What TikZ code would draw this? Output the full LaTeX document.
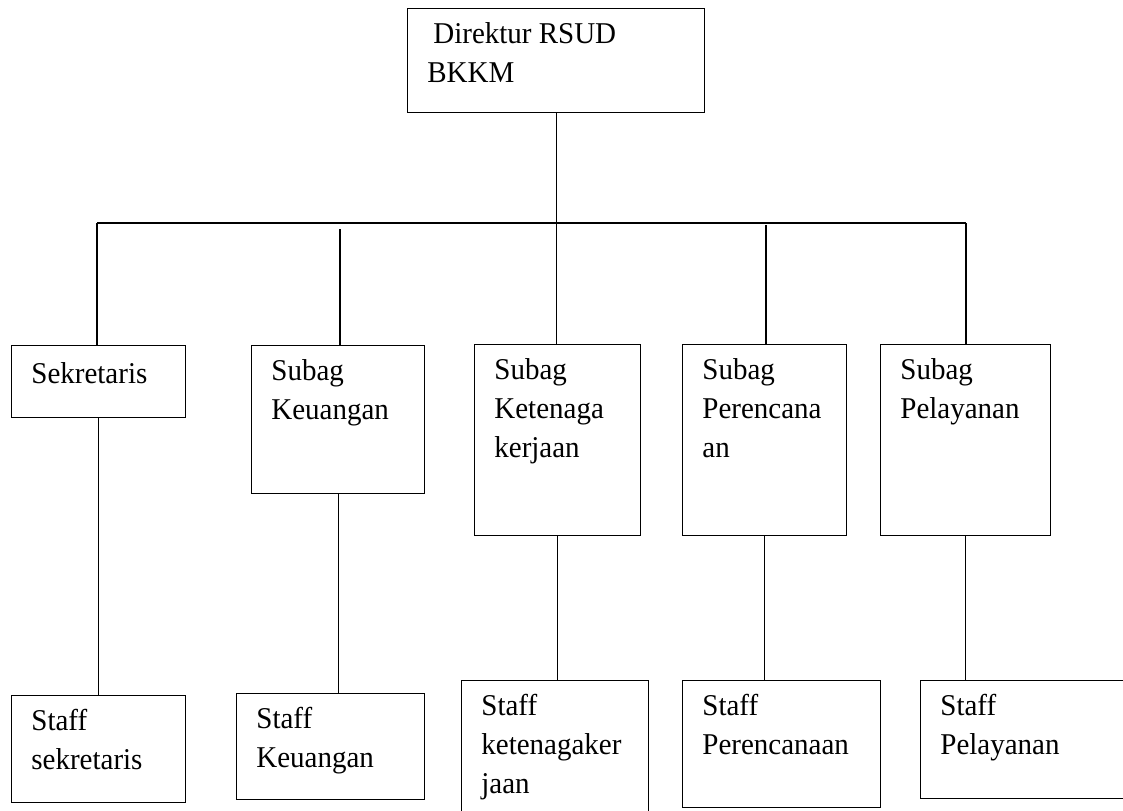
\documentclass[tikz,border=0pt]{standalone}
\usepackage{fontspec}
\setmainfont{Liberation Serif}[FakeStretch=0.96]
\usepackage{tikz}
\usetikzlibrary{positioning}
\tikzstyle{unit} = [draw=black, line width=0.7pt, fill=none, inner sep=0pt, anchor=north west]
\tikzstyle{unittext} = [draw=none, fill=none, inner sep=0pt, anchor=north west, align=left, font=\fontsize{15.1}{19.5}\selectfont, execute at begin node={\rule{0pt}{12pt}}]
\tikzstyle{tline} = [draw, line width=0.7pt]

\begin{document}
\begin{tikzpicture}[x=0.5pt, y=-0.5pt]
\useasboundingbox (0,0) rectangle (1123,810);

% boxes =============================
\node[unit, minimum width=148.5pt, minimum height=52pt] (dir) at (407,8) {};
\node[unit, minimum width=87pt, minimum height=36pt] (sek) at (11,345) {};
\node[unit, minimum width=86.5pt, minimum height=74pt] (keu) at (251,345) {};
\node[unit, minimum width=83pt, minimum height=95.5pt] (ket) at (474,344) {};
\node[unit, minimum width=82pt, minimum height=95.5pt] (per) at (682,344) {};
\node[unit, minimum width=85pt, minimum height=95.5pt] (pel) at (880,344) {};
\node[unit, minimum width=87pt, minimum height=53.5pt] (ssek) at (11,695) {};
\node[unit, minimum width=94pt, minimum height=53pt] (skeu) at (236,693) {};
\node[unit, minimum width=93.5pt, minimum height=70pt] (sket) at (461,680) {};
\node[unit, minimum width=99pt, minimum height=63.5pt] (sper) at (682,680) {};
\node[unit, minimum width=110pt, minimum height=59pt] (spel) at (920,680) {};

% texts
\node[unittext] (dir-t) at ([shift={(20,14)}]dir.north west) {\hspace{3pt}Direktur RSUD\\BKKM};
\node[unittext] (sek-t) at ([shift={(20,14)}]sek.north west) {Sekretaris};
\node[unittext] (keu-t) at ([shift={(20,14)}]keu.north west) {Subag\\Keuangan};
\node[unittext] (ket-t) at ([shift={(20,14)}]ket.north west) {Subag\\Ketenaga\\kerjaan};
\node[unittext] (per-t) at ([shift={(20,14)}]per.north west) {Subag\\Perencana\\an};
\node[unittext] (pel-t) at ([shift={(20,14)}]pel.north west) {Subag\\Pelayanan};
\node[unittext] (ssek-t) at ([shift={(20,14)}]ssek.north west) {Staff\\sekretaris};
\node[unittext] (skeu-t) at ([shift={(20,14)}]skeu.north west) {Staff\\Keuangan};
\node[unittext] (sket-t) at ([shift={(20,14)}]sket.north west) {Staff\\ketenagaker\\jaan};
\node[unittext] (sper-t) at ([shift={(20,14)}]sper.north west) {Staff\\Perencanaan};
\node[unittext] (spel-t) at ([shift={(20,14)}]spel.north west) {Staff\\Pelayanan};

% edges
\coordinate (busL) at (97,223);
\coordinate (busR) at (966,223);
\coordinate (keuUp) at (340,229);
\coordinate (perUp) at (766,225);
\path[tline] (busL) -- (busR);
\path[tline] (dir.south) -- (dir.south |- ket.north);
\path[tline] (busL) -- (busL |- sek.north);
\path[tline] (keuUp) -- (keuUp |- keu.north);
\path[tline] (perUp) -- (perUp |- per.north);
\path[tline] (busR) -- (busR |- pel.north);
\path[tline] (sek.south) -- (sek.south |- ssek.north);
\path[tline] (keu.south) -- (keu.south |- skeu.north);
\path[tline] (ket.south) -- (ket.south |- sket.north);
\path[tline] (per.south) -- (per.south |- sper.north);
\path[tline] (pel.south) -- (pel.south |- spel.north);

\end{tikzpicture}
\end{document}
